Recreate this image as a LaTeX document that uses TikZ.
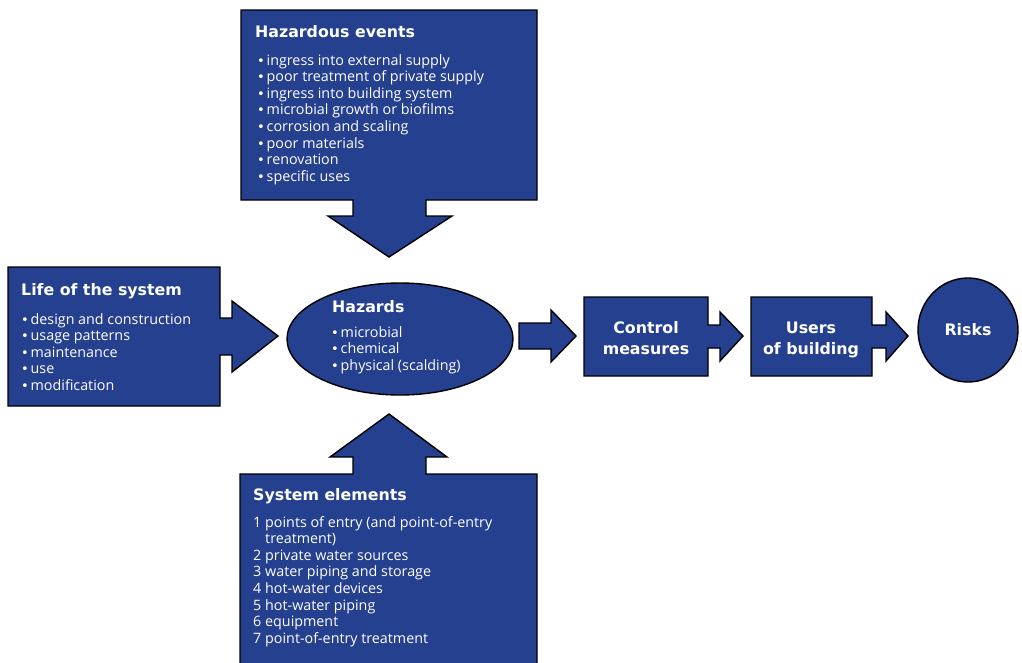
\documentclass[tikz,border=0pt]{standalone}
\usepackage{fontspec}
\setmainfont{Open Sans}
\newfontfamily\headfont{DejaVu Sans}
\usetikzlibrary{positioning,shapes.geometric}
\definecolor{whoblue}{RGB}{37,64,143}
\tikzset{
  blockshape/.style={fill=whoblue, draw=black, line width=1.4pt, line join=miter},
  titletxt/.style={text=white, font=\headfont\bfseries\fontsize{15.8}{18}\selectfont, inner sep=0pt, anchor=base west},
  itemtxt/.style={text=white, font=\fontsize{14.3}{16}\selectfont, inner sep=0pt, anchor=base west},
  flowtxt/.style={text=white, font=\headfont\bfseries\fontsize{15.8}{21}\selectfont, inner sep=0pt, align=center},
}
\newcommand{\bul}{\makebox[9.5pt][l]{{\headfont\fontsize{13}{14}\selectfont •}}}
\newcommand{\num}[1]{\makebox[12pt][l]{#1}}
\begin{document}
\begin{tikzpicture}[x=1pt,y=-1pt]
  \useasboundingbox (0,0) rectangle (1022,662);

  % hazardous events, arrow pointing down
  \draw[blockshape] (241,10) -- (537,10) -- (537,200) -- (426,200) -- (426,216) -- (452,216)
    -- (389,257) -- (328,216) -- (353,216) -- (353,200) -- (241,200) -- cycle;
  \node[titletxt] (evt) at (255,37) {Hazardous events};
  \foreach \t [count=\i] in {ingress into external supply, poor treatment of private supply,
      ingress into building system, microbial growth or biofilms, corrosion and scaling,
      poor materials, renovation, specific uses}
    \node[itemtxt] (evt\i) at ({257},{65+16.65*(\i-1)}) {\bul\t};

  % life of the system, arrow pointing right
  \draw[blockshape] (8,267) -- (220,267) -- (220,318) -- (232,318) -- (232,301) -- (278,336)
    -- (232,372) -- (232,355) -- (220,355) -- (220,406) -- (8,406) -- cycle;
  \node[titletxt] (life) at (21,295) {Life of the system};
  \foreach \t [count=\i] in {design and construction, usage patterns, maintenance, use, modification}
    \node[itemtxt] (life\i) at ({21},{324+16.6*(\i-1)}) {\bul\t};

  % hazards
  \node[ellipse, blockshape, minimum width=226pt, minimum height=112pt] (hz) at (400,339) {};
  \node[titletxt] (hztitle) at (332,312) {Hazards};
  \foreach \t [count=\i] in {microbial, chemical, physical (scalding)}
    \node[itemtxt] (hz\i) at ({331},{337+16.6*(\i-1)}) {\bul\t};

  % arrow hazards -> control measures
  \draw[blockshape] (519,323) -- (551,323) -- (551,310) -- (576,336) -- (551,362) -- (551,349)
    -- (519,349) -- cycle;

  % control measures
  \draw[blockshape] (584,297) -- (708,297) -- (708,325) -- (720,325) -- (720,312) -- (743,336)
    -- (720,361) -- (720,348) -- (708,348) -- (708,376) -- (584,376) -- cycle;
  \node[flowtxt] (ctrl) at (646,338) {Control\\measures};

  % users of building
  \draw[blockshape] (751,297) -- (872,297) -- (872,325) -- (886,325) -- (886,312) -- (908,336)
    -- (886,361) -- (886,348) -- (872,348) -- (872,376) -- (751,376) -- cycle;
  \node[flowtxt] (users) at (811,339.5) {Users\\of building};

  % risks
  \node[ellipse, blockshape, minimum width=100pt, minimum height=104pt, flowtxt] (risks) at (968,330) {Risks};

  % system elements, arrow pointing up
  \draw[blockshape] (240,674) -- (240,474) -- (353,474) -- (353,457) -- (330,457) -- (389,414)
    -- (447,457) -- (426,457) -- (426,474) -- (537,474) -- (537,674) -- cycle;
  \node[titletxt] (sys) at (253,500) {System elements};
  \node[itemtxt] (sys1) at (253,527) {\num{1}points of entry (and point-of-entry};
  \node[itemtxt] (sys1b) at (253,543.6) {\num{}treatment)};
  \foreach \t [count=\i from 2] in {private water sources, water piping and storage,
      hot-water devices, hot-water piping, equipment, point-of-entry treatment}
    \node[itemtxt] (sys\i) at ({253},{527+16.6*(\i-0)}) {\num{\i}\t};
\end{tikzpicture}
\end{document}
